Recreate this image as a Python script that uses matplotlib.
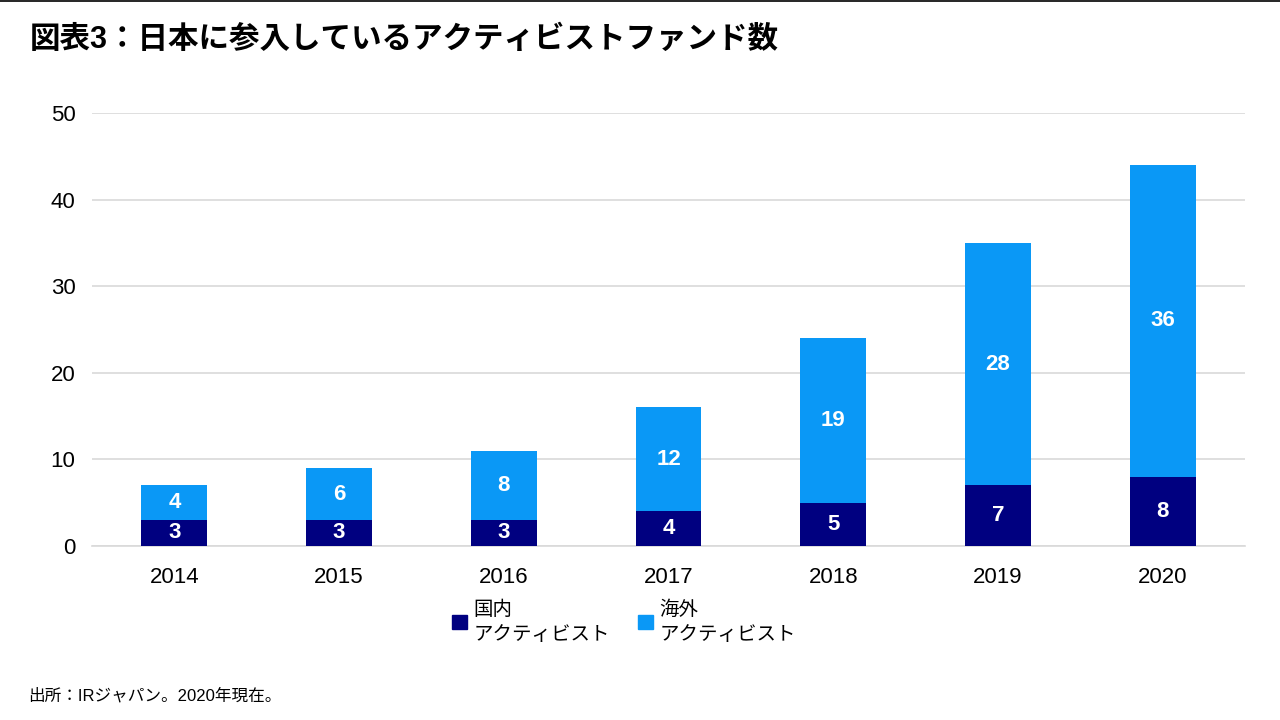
import matplotlib
matplotlib.use("Agg")
import matplotlib.pyplot as plt
from matplotlib.lines import Line2D
from matplotlib.patches import Patch

plt.rcParams['font.family'] = ['Liberation Sans', 'Noto Sans CJK JP', 'DejaVu Sans']

years = ["2014", "2015", "2016", "2017", "2018", "2019", "2020"]
domestic = [3, 3, 3, 4, 5, 7, 8]
overseas = [4, 6, 8, 12, 19, 28, 36]
series_names = ["国内\nアクティビスト", "海外\nアクティビスト"]
title = "図表3：日本に参入しているアクティビストファンド数"
source = "出所：IRジャパン。2020年現在。"

c_dom = "#000080"
c_ovs = "#0A98F6"

fig = plt.figure(figsize=(12.8, 7.2), dpi=100)
ax = fig.add_axes([0.0719, 0.2417, 0.9008, 0.6013])

x = list(range(len(years)))
w = 0.4
ax.bar(x, domestic, w, color=c_dom, zorder=3)
ax.bar(x, overseas, w, bottom=domestic, color=c_ovs, zorder=3)

for i in x:
    ax.text(i, domestic[i] / 2, str(domestic[i]), ha='center', va='center',
            color='white', fontsize=16, fontweight='bold', zorder=4)
    ax.text(i, domestic[i] + overseas[i] / 2, str(overseas[i]), ha='center', va='center',
            color='white', fontsize=16, fontweight='bold', zorder=4)

ax.set_xlim(-0.5, len(years) - 0.5)
ax.set_ylim(0, 50)
ax.set_yticks([0, 10, 20, 30, 40, 50])
ax.set_xticks(x)
ax.set_xticklabels(years)
ax.tick_params(axis='both', length=0, labelsize=16, colors='#000000')
ax.tick_params(axis='y', pad=12)
ax.tick_params(axis='x', pad=15)
ax.grid(axis='y', color='#D9D9D9', linewidth=1.2, zorder=0)
for s in ['top', 'right', 'left']:
    ax.spines[s].set_visible(False)
ax.spines['bottom'].set_color('#D9D9D9')
ax.spines['bottom'].set_linewidth(1.2)

handles = [Patch(color=c_dom), Patch(color=c_ovs)]
leg = fig.legend(handles, series_names, ncol=2, loc='center', bbox_to_anchor=(0.4875, 0.136),
                 frameon=False, fontsize=14, handlelength=0.75, handleheight=0.75,
                 handletextpad=0.35, columnspacing=1.45)
for t in leg.get_texts():
    t.set_linespacing(1.5)

fig.text(0.023, 0.944, title, fontsize=22, fontweight='bold', ha='left', va='center')
fig.text(0.022, 0.034, source, fontsize=12, ha='left', va='center')
fig.add_artist(Line2D([0, 1], [0.998, 0.998], color='black', linewidth=1.2,
                      transform=fig.transFigure))

fig.savefig("out.png", dpi=100)
